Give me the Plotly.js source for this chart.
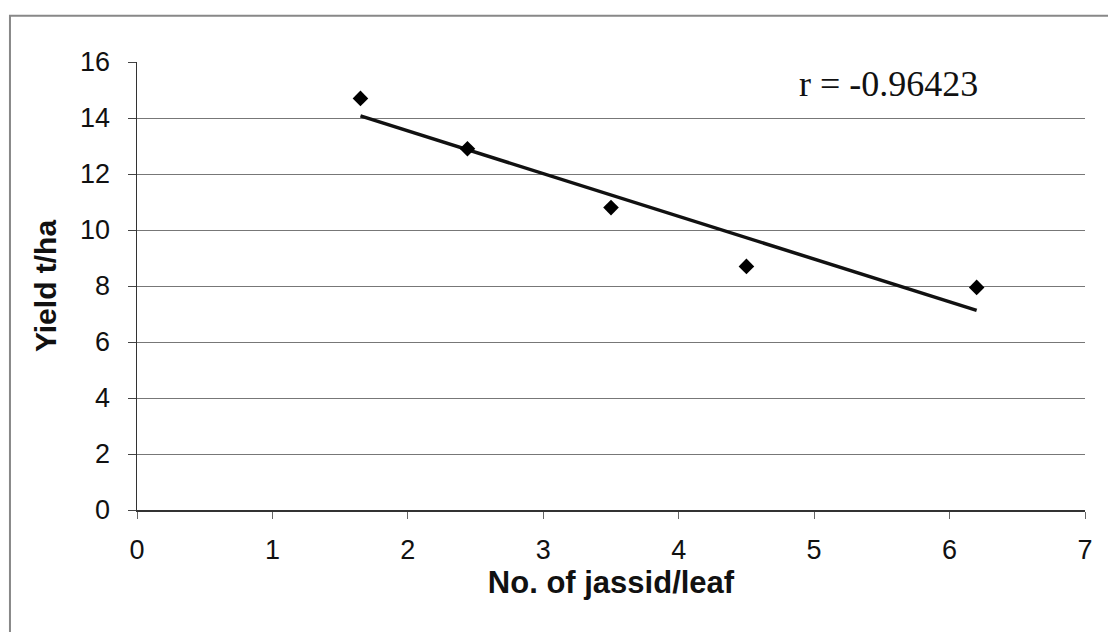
<!DOCTYPE html>
<html><head><meta charset="utf-8">
<script src="https://cdn.plot.ly/plotly-3.0.1.min.js"></script>
<style>body{margin:0;background:#fff}#chart{width:1108px;height:632px}</style>
</head><body><div id="chart"></div>
<script>
const jassid = [1.65, 2.44, 3.5, 4.5, 6.2];
const yieldTha = [14.7, 12.9, 10.8, 8.7, 7.95];
const rLabel = 'r = -0.96423';
const xTicks = [0,1,2,3,4,5,6,7];
const yTicks = [0,2,4,6,8,10,12,14,16];

// least-squares trend line of the data
const n = jassid.length;
const mx = jassid.reduce((a,b)=>a+b,0)/n;
const my = yieldTha.reduce((a,b)=>a+b,0)/n;
let sxy=0, sxx=0;
for(let i=0;i<n;i++){sxy+=(jassid[i]-mx)*(yieldTha[i]-my);sxx+=(jassid[i]-mx)**2;}
const slope = sxy/sxx, icpt = my - slope*mx;
const tx = [Math.min(...jassid), Math.max(...jassid)];
const ty = tx.map(x=>icpt+slope*x);

const data = [
 {x: tx, y: ty, mode:'lines', line:{color:'#111', width:3.5}, hoverinfo:'skip'},
 {x: jassid, y: yieldTha, mode:'markers', marker:{symbol:'diamond', size:12, color:'#000'}}
];
const layout = {
 width:1108, height:632, showlegend:false,
 paper_bgcolor:'#fff', plot_bgcolor:'#fff',
 margin:{l:137, r:23, t:62, b:122},
 font:{family:'Arial, Liberation Sans, sans-serif', color:'#111'},
 xaxis:{range:[0,7], tickvals:xTicks, ticktext:xTicks.map(String), showgrid:false, zeroline:false,
   showline:true, linecolor:'#333', linewidth:1.5, ticks:'outside', ticklen:7, tickcolor:'#666',
   tickfont:{size:27}, ticklabelstandoff:8, title:{text:'<b>No. of jassid/leaf</b>', font:{size:31}, standoff:6}},
 yaxis:{range:[0,16], tickvals:yTicks, showgrid:true, gridcolor:'#777', gridwidth:1, zeroline:false,
   showline:true, linecolor:'#333', linewidth:1.5, ticks:'outside', ticklen:8, tickcolor:'#444',
   tickfont:{size:27}, ticklabelstandoff:12, title:{text:'<b>Yield t/ha</b>', font:{size:30}, standoff:14}},
 annotations:[{xref:'paper', yref:'paper', x:0.793, y:0.95, xanchor:'center', yanchor:'middle', showarrow:false,
   text:rLabel, font:{family:'Liberation Serif, Times New Roman, serif', size:36, color:'#111'}}],
 shapes:[{type:'rect', xref:'paper', yref:'paper', x0:-0.134, x1:1.03, y0:-0.33, y1:1.103, line:{color:'#888', width:2}}]
};
Plotly.newPlot('chart', data, layout, {displayModeBar:false, staticPlot:true});
</script></body></html>
